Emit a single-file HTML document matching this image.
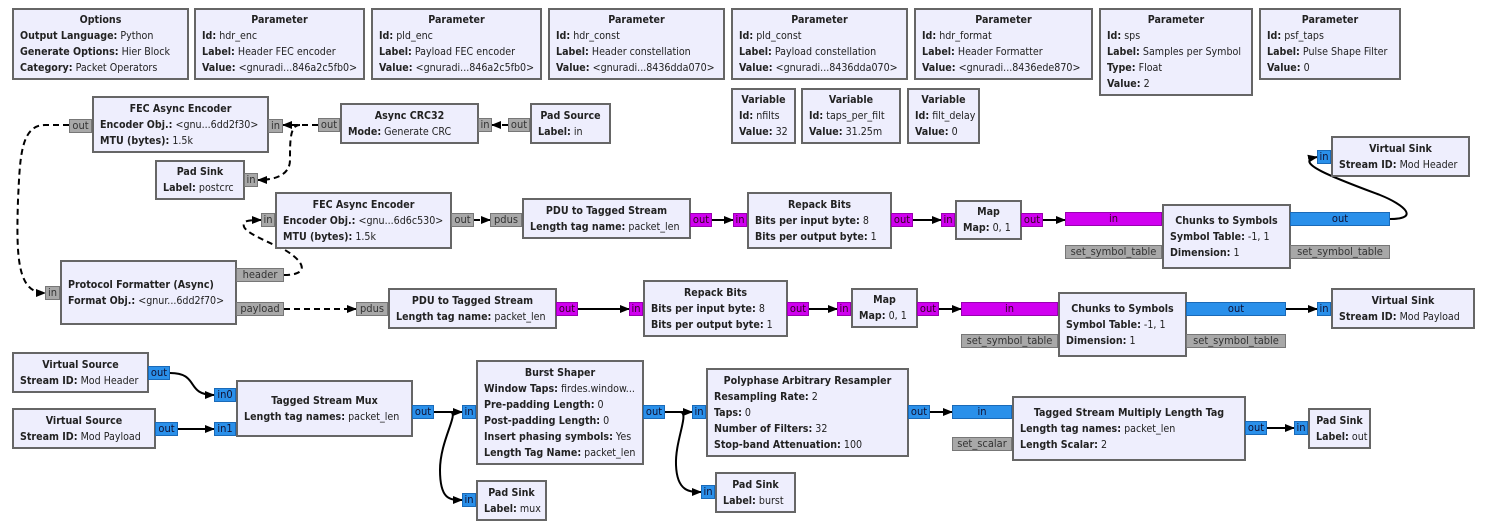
<!DOCTYPE html>
<html><head><meta charset="utf-8"><style>
body{margin:0;width:1492px;height:530px;background:#fff;position:relative;overflow:hidden;font-family:"DejaVu Sans Condensed","DejaVu Sans","Liberation Sans",sans-serif;font-size:10.6px;color:#222}
.b{position:absolute;box-sizing:border-box;background:#eeeefd;border:2px solid #666;display:flex;flex-direction:column;justify-content:center;padding:0 6px;white-space:nowrap;overflow:hidden}
.b div{height:16px;line-height:16px}
.b .t{text-align:center;font-weight:bold}
.b b{font-weight:bold}
.p{position:absolute;box-sizing:border-box;height:14px;line-height:12px;font-size:11px;text-align:center;border:1px solid #777;background:#a8a8a8;color:#333;white-space:nowrap;overflow:hidden}
.bl{background:#2a90ea;border-color:#1a6ab8;color:#113}
.mg{background:#d000f0;border-color:#9900b0;color:#302}
svg{position:absolute;left:0;top:0}
</style></head><body>
<svg width="1492" height="530">
<defs><marker id="a" markerWidth="10" markerHeight="8" refX="9" refY="4" orient="auto" markerUnits="userSpaceOnUse"><path d="M0,0L10,4L0,8z" fill="#000"/></marker></defs>
<g fill="none" stroke="#000" stroke-width="2">
<g stroke-dasharray="6,4">
<path d="M508,125H492" marker-end="url(#a)"/>
<path d="M318,125H283" marker-end="url(#a)"/>
<path d="M300,125C290,125 290,140 290,160C290,175 275,180 258,180" marker-end="url(#a)"/>
<path d="M69,125H45C20,125 20,160 18,200C16,260 18,293 45,293" marker-end="url(#a)"/>
<path d="M284,275C310,275 305,262 285,250C260,238 238,230 245,222C248,220 255,220 261,220" marker-end="url(#a)"/>
<path d="M474,220H490" marker-end="url(#a)"/>
<path d="M284,309H356" marker-end="url(#a)"/>
</g>
<path d="M712,220H733" marker-end="url(#a)"/>
<path d="M913,220H941" marker-end="url(#a)"/>
<path d="M1043,220H1065" marker-end="url(#a)"/>
<path d="M1390,219C1420,219 1405,205 1380,195C1340,180 1290,162 1317,157" marker-end="url(#a)"/>
<path d="M578,309H629" marker-end="url(#a)"/>
<path d="M809,309H837" marker-end="url(#a)"/>
<path d="M939,309H961" marker-end="url(#a)"/>
<path d="M1286,309H1317" marker-end="url(#a)"/>
<path d="M170,373C200,373 185,395 214,395" marker-end="url(#a)"/>
<path d="M178,429H214" marker-end="url(#a)"/>
<path d="M434,412H462" marker-end="url(#a)"/>
<path d="M450,412C460,412 440,440 440,470C440,500 450,500 462,500" marker-end="url(#a)"/>
<path d="M665,412H692" marker-end="url(#a)"/>
<path d="M680,412C690,412 675,440 676,465C677,492 690,492 701,492" marker-end="url(#a)"/>
<path d="M930,412H952" marker-end="url(#a)"/>
<path d="M1267,428H1294" marker-end="url(#a)"/>
</g>
</svg>

<div class="b" style="left:12px;top:8px;width:177px;height:72px"><div class="t">Options</div><div><b>Output Language:</b> Python</div><div><b>Generate Options:</b> Hier Block</div><div><b>Category:</b> Packet Operators</div></div>
<div class="b" style="left:194px;top:8px;width:171px;height:72px"><div class="t">Parameter</div><div><b>Id:</b> hdr_enc</div><div><b>Label:</b> Header FEC encoder</div><div><b>Value:</b> &lt;gnuradi...846a2c5fb0&gt;</div></div>
<div class="b" style="left:371px;top:8px;width:171px;height:72px"><div class="t">Parameter</div><div><b>Id:</b> pld_enc</div><div><b>Label:</b> Payload FEC encoder</div><div><b>Value:</b> &lt;gnuradi...846a2c5fb0&gt;</div></div>
<div class="b" style="left:548px;top:8px;width:177px;height:72px"><div class="t">Parameter</div><div><b>Id:</b> hdr_const</div><div><b>Label:</b> Header constellation</div><div><b>Value:</b> &lt;gnuradi...8436dda070&gt;</div></div>
<div class="b" style="left:731px;top:8px;width:177px;height:72px"><div class="t">Parameter</div><div><b>Id:</b> pld_const</div><div><b>Label:</b> Payload constellation</div><div><b>Value:</b> &lt;gnuradi...8436dda070&gt;</div></div>
<div class="b" style="left:914px;top:8px;width:179px;height:72px"><div class="t">Parameter</div><div><b>Id:</b> hdr_format</div><div><b>Label:</b> Header Formatter</div><div><b>Value:</b> &lt;gnuradi...8436ede870&gt;</div></div>
<div class="b" style="left:1099px;top:8px;width:154px;height:88px"><div class="t">Parameter</div><div><b>Id:</b> sps</div><div><b>Label:</b> Samples per Symbol</div><div><b>Type:</b> Float</div><div><b>Value:</b> 2</div></div>
<div class="b" style="left:1259px;top:8px;width:142px;height:72px"><div class="t">Parameter</div><div><b>Id:</b> psf_taps</div><div><b>Label:</b> Pulse Shape Filter</div><div><b>Value:</b> 0</div></div>
<div class="b" style="left:731px;top:88px;width:65px;height:56px"><div class="t">Variable</div><div><b>Id:</b> nfilts</div><div><b>Value:</b> 32</div></div>
<div class="b" style="left:801px;top:88px;width:100px;height:56px"><div class="t">Variable</div><div><b>Id:</b> taps_per_filt</div><div><b>Value:</b> 31.25m</div></div>
<div class="b" style="left:907px;top:88px;width:73px;height:56px"><div class="t">Variable</div><div><b>Id:</b> filt_delay</div><div><b>Value:</b> 0</div></div>

<div class="b" style="left:92px;top:96px;width:177px;height:57px"><div class="t">FEC Async Encoder</div><div><b>Encoder Obj.:</b> &lt;gnu...6dd2f30&gt;</div><div><b>MTU (bytes):</b> 1.5k</div></div>
<div class="p" style="left:69px;top:119px;width:23px">out</div><div class="p" style="left:268px;top:119px;width:15px">in</div>
<div class="b" style="left:340px;top:103px;width:139px;height:41px"><div class="t">Async CRC32</div><div><b>Mode:</b> Generate CRC</div></div>
<div class="p" style="left:318px;top:118px;width:22px">out</div><div class="p" style="left:478px;top:118px;width:14px">in</div>
<div class="b" style="left:530px;top:103px;width:81px;height:41px"><div class="t">Pad Source</div><div><b>Label:</b> in</div></div>
<div class="p" style="left:508px;top:118px;width:22px">out</div>
<div class="b" style="left:155px;top:160px;width:90px;height:40px"><div class="t">Pad Sink</div><div><b>Label:</b> postcrc</div></div>
<div class="p" style="left:244px;top:173px;width:14px">in</div>

<div class="b" style="left:275px;top:192px;width:177px;height:57px"><div class="t">FEC Async Encoder</div><div><b>Encoder Obj.:</b> &lt;gnu...6d6c530&gt;</div><div><b>MTU (bytes):</b> 1.5k</div></div>
<div class="p" style="left:261px;top:213px;width:14px">in</div><div class="p" style="left:451px;top:213px;width:23px">out</div>
<div class="b" style="left:522px;top:198px;width:169px;height:41px"><div class="t">PDU to Tagged Stream</div><div><b>Length tag name:</b> packet_len</div></div>
<div class="p" style="left:490px;top:213px;width:32px">pdus</div><div class="p mg" style="left:690px;top:213px;width:22px">out</div>
<div class="b" style="left:747px;top:192px;width:145px;height:57px"><div class="t">Repack Bits</div><div><b>Bits per input byte:</b> 8</div><div><b>Bits per output byte:</b> 1</div></div>
<div class="p mg" style="left:733px;top:213px;width:14px">in</div><div class="p mg" style="left:891px;top:213px;width:22px">out</div>
<div class="b" style="left:955px;top:200px;width:67px;height:40px"><div class="t">Map</div><div><b>Map:</b> 0, 1</div></div>
<div class="p mg" style="left:941px;top:213px;width:14px">in</div><div class="p mg" style="left:1021px;top:213px;width:22px">out</div>
<div class="p mg" style="left:1065px;top:212px;width:97px">in</div>
<div class="p" style="left:1065px;top:245px;width:97px">set_symbol_table</div>
<div class="b" style="left:1162px;top:204px;width:129px;height:65px"><div class="t">Chunks to Symbols</div><div><b>Symbol Table:</b> -1, 1</div><div><b>Dimension:</b> 1</div></div>
<div class="p bl" style="left:1290px;top:212px;width:100px">out</div>
<div class="p" style="left:1290px;top:245px;width:100px">set_symbol_table</div>
<div class="b" style="left:1331px;top:136px;width:139px;height:41px"><div class="t">Virtual Sink</div><div><b>Stream ID:</b> Mod Header</div></div>
<div class="p bl" style="left:1317px;top:150px;width:14px">in</div>

<div class="b" style="left:60px;top:260px;width:177px;height:65px"><div class="t" style="text-align:left">Protocol Formatter (Async)</div><div><b>Format Obj.:</b> &lt;gnur...6dd2f70&gt;</div></div>
<div class="p" style="left:45px;top:286px;width:15px">in</div>
<div class="p" style="left:236px;top:268px;width:48px">header</div><div class="p" style="left:236px;top:302px;width:48px">payload</div>
<div class="b" style="left:388px;top:288px;width:169px;height:41px"><div class="t">PDU to Tagged Stream</div><div><b>Length tag name:</b> packet_len</div></div>
<div class="p" style="left:356px;top:302px;width:32px">pdus</div><div class="p mg" style="left:556px;top:302px;width:22px">out</div>
<div class="b" style="left:643px;top:280px;width:145px;height:57px"><div class="t">Repack Bits</div><div><b>Bits per input byte:</b> 8</div><div><b>Bits per output byte:</b> 1</div></div>
<div class="p mg" style="left:629px;top:302px;width:14px">in</div><div class="p mg" style="left:787px;top:302px;width:22px">out</div>
<div class="b" style="left:851px;top:288px;width:67px;height:40px"><div class="t">Map</div><div><b>Map:</b> 0, 1</div></div>
<div class="p mg" style="left:837px;top:302px;width:14px">in</div><div class="p mg" style="left:917px;top:302px;width:22px">out</div>
<div class="p mg" style="left:961px;top:302px;width:97px">in</div>
<div class="p" style="left:961px;top:334px;width:97px">set_symbol_table</div>
<div class="b" style="left:1058px;top:292px;width:129px;height:65px"><div class="t">Chunks to Symbols</div><div><b>Symbol Table:</b> -1, 1</div><div><b>Dimension:</b> 1</div></div>
<div class="p bl" style="left:1186px;top:302px;width:100px">out</div>
<div class="p" style="left:1186px;top:334px;width:100px">set_symbol_table</div>
<div class="b" style="left:1331px;top:288px;width:144px;height:41px"><div class="t">Virtual Sink</div><div><b>Stream ID:</b> Mod Payload</div></div>
<div class="p bl" style="left:1317px;top:302px;width:14px">in</div>

<div class="b" style="left:12px;top:352px;width:137px;height:41px"><div class="t">Virtual Source</div><div><b>Stream ID:</b> Mod Header</div></div>
<div class="p bl" style="left:148px;top:366px;width:22px">out</div>
<div class="b" style="left:12px;top:408px;width:144px;height:41px"><div class="t">Virtual Source</div><div><b>Stream ID:</b> Mod Payload</div></div>
<div class="p bl" style="left:155px;top:422px;width:23px">out</div>
<div class="b" style="left:236px;top:380px;width:177px;height:57px"><div class="t">Tagged Stream Mux</div><div><b>Length tag names:</b> packet_len</div></div>
<div class="p bl" style="left:214px;top:388px;width:22px">in0</div><div class="p bl" style="left:214px;top:422px;width:22px">in1</div>
<div class="p bl" style="left:412px;top:405px;width:22px">out</div>
<div class="b" style="left:476px;top:360px;width:168px;height:105px"><div class="t">Burst Shaper</div><div><b>Window Taps:</b> firdes.window...</div><div><b>Pre-padding Length:</b> 0</div><div><b>Post-padding Length:</b> 0</div><div><b>Insert phasing symbols:</b> Yes</div><div><b>Length Tag Name:</b> packet_len</div></div>
<div class="p bl" style="left:462px;top:405px;width:14px">in</div><div class="p bl" style="left:643px;top:405px;width:22px">out</div>
<div class="b" style="left:476px;top:480px;width:71px;height:41px"><div class="t">Pad Sink</div><div><b>Label:</b> mux</div></div>
<div class="p bl" style="left:462px;top:493px;width:14px">in</div>
<div class="b" style="left:706px;top:368px;width:203px;height:89px"><div class="t">Polyphase Arbitrary Resampler</div><div><b>Resampling Rate:</b> 2</div><div><b>Taps:</b> 0</div><div><b>Number of Filters:</b> 32</div><div><b>Stop-band Attenuation:</b> 100</div></div>
<div class="p bl" style="left:692px;top:405px;width:14px">in</div><div class="p bl" style="left:908px;top:405px;width:22px">out</div>
<div class="b" style="left:715px;top:472px;width:81px;height:41px"><div class="t">Pad Sink</div><div><b>Label:</b> burst</div></div>
<div class="p bl" style="left:701px;top:485px;width:14px">in</div>
<div class="p bl" style="left:952px;top:405px;width:60px">in</div>
<div class="p" style="left:952px;top:437px;width:60px">set_scalar</div>
<div class="b" style="left:1012px;top:396px;width:234px;height:65px"><div class="t">Tagged Stream Multiply Length Tag</div><div><b>Length tag names:</b> packet_len</div><div><b>Length Scalar:</b> 2</div></div>
<div class="p bl" style="left:1245px;top:421px;width:22px">out</div>
<div class="b" style="left:1308px;top:408px;width:63px;height:41px"><div class="t">Pad Sink</div><div><b>Label:</b> out</div></div>
<div class="p bl" style="left:1294px;top:421px;width:14px">in</div>
</body></html>
